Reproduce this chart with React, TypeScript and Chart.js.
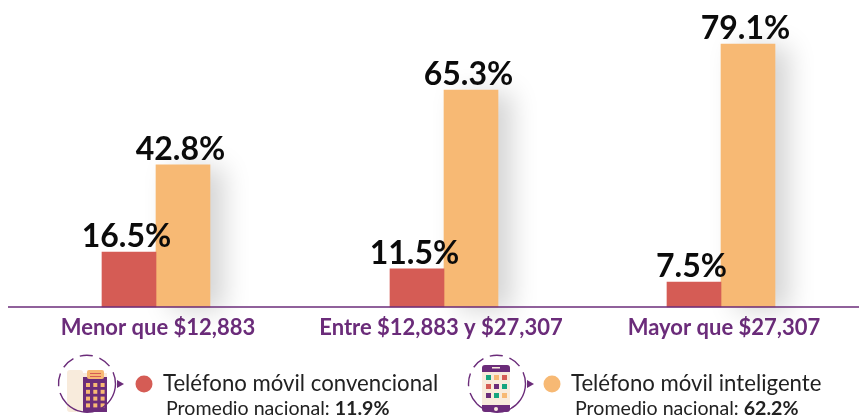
import React, { useEffect, useRef } from "react";
import { Chart, registerables, CategoryScale } from "chart.js";

const categories = ["Menor que $12,883", "Entre $12,883 y $27,307", "Mayor que $27,307"];
const conventionalLabel = "Teléfono móvil convencional";
const smartLabel = "Teléfono móvil inteligente";
const conventionalValues = [16.5, 11.5, 7.5];
const smartValues = [42.8, 65.3, 79.1];
const nationalLabel = "Promedio nacional: ";
const conventionalAverage = "11.9%";
const smartAverage = "62.2%";

const RED = "#d55c55";
const ORANGE = "#f7b974";
const PURPLE = "#6b2c7a";
const FONT = "Lato, sans-serif";
const BAR_NUDGE = [-2, 3, -3];

class NudgedCategory extends CategoryScale {
  static id = "nudged";
  getPixelForValue(value: number) {
    return super.getPixelForValue(value) + (BAR_NUDGE[Math.round(value)] ?? 0);
  }
  getPixelForTick(index: number) {
    return CategoryScale.prototype.getPixelForValue.call(this, this.ticks[index].value);
  }
}
Chart.register(...registerables, NudgedCategory);

const shadowPlugin = {
  id: "barShadow",
  beforeDatasetDraw(chart: any, args: any) {
    const c = chart.ctx;
    c.save();
    if (args.index === 1) {
      c.shadowColor = "rgba(0,0,0,0.17)";
      c.shadowBlur = 26;
      c.shadowOffsetX = 14;
      c.shadowOffsetY = 3;
    }
  },
  afterDatasetDraw(chart: any) {
    chart.ctx.restore();
  },
};

const overlayPlugin = {
  id: "overlay",
  afterDatasetsDraw(chart: any) {
    const c = chart.ctx;
    const bottom = chart.chartArea.bottom;
    c.save();
    c.strokeStyle = PURPLE;
    c.lineWidth = 1.5;
    c.beginPath();
    c.moveTo(8, bottom);
    c.lineTo(859, bottom);
    c.stroke();
    c.fillStyle = "#0b0b0b";
    c.font = `700 32px ${FONT}`;
    c.textAlign = "center";
    c.textBaseline = "alphabetic";
    chart.data.datasets.forEach((ds: any, i: number) => {
      chart.getDatasetMeta(i).data.forEach((bar: any, j: number) => {
        c.fillText(ds.data[j].toFixed(1) + "%", bar.x - 2.5, bar.y - 5);
      });
    });
    c.restore();
  },
};

function Ring({ cx, cy }: { cx: number; cy: number }) {
  return (
    <g fill="none" stroke={PURPLE} strokeWidth={1.4}>
      <path d={`M ${cx + 28.5} ${cy} A 28.5 28.5 0 0 1 ${cx - 20} ${cy + 20}`} />
      <path
        d={`M ${cx - 20} ${cy + 20} A 28.5 28.5 0 1 1 ${cx + 28.5} ${cy}`}
        strokeDasharray="13 7"
      />
      <path d={`M ${cx + 30} ${cy - 4} L ${cx + 37} ${cy} L ${cx + 30} ${cy + 4} Z`} fill={PURPLE} stroke="none" />
    </g>
  );
}

function DeskPhone() {
  const keys: React.ReactElement[] = [];
  for (let r = 0; r < 4; r++)
    for (let k = 0; k < 3; k++)
      keys.push(<rect key={`${r}-${k}`} x={86 + k * 7.3} y={383 + r * 6.8} width={4} height={4} fill={ORANGE} />);
  return (
    <g>
      <rect x={83} y={373} width={24} height={39} fill="#f8ebdc" />
      <rect x={83} y={377} width={24} height={35} fill={PURPLE} />
      <rect x={67} y={370} width={16} height={42} rx={3} fill="#f8ebdc" />
      <rect x={87} y={370} width={17} height={9} rx={2} fill={ORANGE} />
      <rect x={90} y={373} width={11} height={1} fill={RED} />
      <rect x={90} y={376} width={11} height={1} fill={RED} />
      {keys}
    </g>
  );
}

function SmartPhone() {
  const colours = ["#16a57f", ORANGE, RED, RED, PURPLE, "#16a57f", PURPLE, "#16a57f", ORANGE];
  return (
    <g>
      <rect x={482} y={365} width={28} height={47} rx={3} fill="#f8ebdc" />
      <path d="M482 372 v-4 a3 3 0 0 1 3 -3 h22 a3 3 0 0 1 3 3 v4 Z" fill={PURPLE} />
      <path d="M482 405 v4 a3 3 0 0 0 3 3 h22 a3 3 0 0 0 3 -3 v-4 Z" fill={PURPLE} />
      <circle cx={496} cy={409} r={2} fill="#f8ebdc" />
      <rect x={492} y={367} width={8} height={1.5} fill="#f8ebdc" />
      {colours.map((col, i) => (
        <rect key={i} x={486 + (i % 3) * 8} y={375 + Math.floor(i / 3) * 9} width={5} height={5} fill={col} />
      ))}
    </g>
  );
}

function LegendText({ x, subX, label, average }: { x: number; subX: number; label: string; average: string }) {
  return (
    <>
      <text x={x} y={391} fontSize={22.2} fill="#222">{label}</text>
      <text x={subX} y={415} fontSize={19.6} fill="#222">
        {nationalLabel}
        <tspan fontWeight={700}>{average}</tspan>
      </text>
    </>
  );
}

export default function App() {
  const ref = useRef<HTMLCanvasElement>(null);
  useEffect(() => {
    const chart = new Chart(ref.current!, {
      type: "bar",
      data: {
        labels: categories,
        datasets: [
          { label: conventionalLabel, data: conventionalValues, backgroundColor: RED, barThickness: 54, clip: false },
          { label: smartLabel, data: smartValues, backgroundColor: ORANGE, barThickness: 54, clip: false },
        ],
      } as any,
      options: {
        animation: false,
        responsive: false,
        layout: { padding: { left: 16.5, right: 0.5, top: 0, bottom: 0 } },
        plugins: { legend: { display: false }, tooltip: { enabled: false } },
        scales: {
          x: {
            type: "nudged",
            grid: { display: false },
            border: { display: false },
            afterFit: (s: any) => { s.height = 110; },
            ticks: {
              color: PURPLE,
              padding: 0,
              maxRotation: 0,
              autoSkip: false,
              font: { family: FONT, weight: "700", size: 22 },
            },
          },
          y: { display: false, min: 0, max: 92.4 },
        },
      } as any,
      plugins: [shadowPlugin, overlayPlugin],
    });
    return () => chart.destroy();
  }, []);

  return (
    <div style={{ position: "fixed", left: 0, top: 0, width: 859, height: 417, overflow: "hidden", background: "#fff" }}>
      <canvas ref={ref} width={866} height={417} style={{ display: "block", position: "absolute", left: 0, top: 0 }} />
      <svg width={859} height={417} style={{ position: "absolute", left: 0, top: 0, fontFamily: FONT }}>
        <DeskPhone />
        <Ring cx={87} cy={384} />
        <circle cx={144} cy={384} r={8.5} fill={RED} />
        <LegendText x={163} subX={166} label={conventionalLabel} average={conventionalAverage} />
        <SmartPhone />
        <Ring cx={497} cy={384} />
        <circle cx={552} cy={384} r={8.5} fill={ORANGE} />
        <LegendText x={571} subX={575} label={smartLabel} average={smartAverage} />
      </svg>
    </div>
  );
}
